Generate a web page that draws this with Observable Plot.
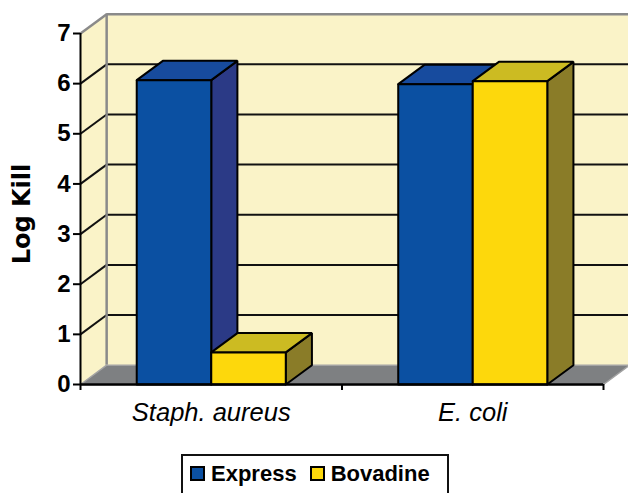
<!DOCTYPE html>
<html>
<head>
<meta charset="utf-8">
<script src="https://cdn.jsdelivr.net/npm/d3@7"></script>
<script src="https://cdn.jsdelivr.net/npm/@observablehq/plot@0.6"></script>
<style>
  html, body { margin: 0; padding: 0; background: #fff; }
  #chart { position: relative; width: 628px; height: 493px; overflow: hidden; font-family: "Liberation Sans", Arial, sans-serif; }
  #legend {
    position: absolute; left: 181px; top: 454px; width: 268px; height: 50px;
    box-sizing: border-box; border: 2px solid #111; background: #fff;
    display: flex; align-items: flex-start; padding: 8px 0 0 7px;
    font-weight: bold; font-size: 22px; color: #000;
  }
  #legend .item { display: flex; align-items: center; margin-right: 13px; }
  #legend .sw { width: 15px; height: 15px; box-sizing: border-box; border: 2px solid #000; margin-right: 6px; }
  #legend .lbl { line-height: 19px; }
</style>
</head>
<body>
<div id="chart"></div>
<script>
// ---- data ----
const categories = ["Staph. aureus", "E. coli"];
const series = ["Express", "Bovadine"];
const express = [6.07, 5.99];
const bovadine = [0.64, 6.05];
const yTicks = [0, 1, 2, 3, 4, 5, 6, 7];
const yLabel = "Log Kill";

// ---- styles ----
const palette = {
  Express:  { front: "#0B50A2", top: "#174B9E", side: "#2B3A86" },
  Bovadine: { front: "#FDD80C", top: "#CCBB22", side: "#8A7C28" }
};
const WALL = "#FAF3C8", FLOOR = "#7E8082", EDGE = "#8A8A8A", FLOOR_EDGE = "#A3A3A3";
const DX = 0.1, DY = 0.385, BAR_W = 0.285;   // 3-D depth offsets & bar width (data units)

const seriesValues = { Express: express, Bovadine: bovadine };
const x0 = -0.5, x1 = categories.length - 0.5;
const yMax = yTicks[yTicks.length - 1];

// bars
const rows = [];
categories.forEach((c, i) => series.forEach((s, j) => rows.push({ cat: c, ci: i, series: s, sj: j, value: seriesValues[s][i] })));

const faces = [];
function poly(id, pts, fill) {
  pts.concat([pts[0]]).forEach(([x, y]) => faces.push({ id, x, y, fill }));
}
rows.forEach((r, k) => {
  const a = r.ci - BAR_W + r.sj * BAR_W, b = a + BAR_W, v = r.value;
  const p = palette[r.series];
  poly(`${k}-side`, [[b, 0], [b, v], [b + DX, v + DY], [b + DX, DY]], p.side);
  poly(`${k}-top`, [[a, v], [b, v], [b + DX, v + DY], [a + DX, v + DY]], p.top);
  poly(`${k}-front`, [[a, 0], [b, 0], [b, v], [a, v]], p.front);
});

// walls & floor
const wallPts = [];
function wpoly(id, pts, fill) { pts.concat([pts[0]]).forEach(([x, y]) => wallPts.push({ id, x, y, fill })); }
wpoly("side", [[x0, 0], [x0, yMax], [x0 + DX, yMax + DY], [x0 + DX, DY]], WALL);
wpoly("back", [[x0 + DX, DY], [x0 + DX, yMax + DY], [x1 + DX, yMax + DY], [x1 + DX, DY]], WALL);
const floorPts = [];
[[x0, 0], [x1, 0], [x1 + DX, DY], [x0 + DX, DY], [x0, 0]].forEach(([x, y]) => floorPts.push({ id: "floor", x, y }));

const grid = yTicks.filter(v => v > 0 && v < yMax);
const boundaries = d3.range(categories.length + 1).map(i => i - 0.5);

const plot = Plot.plot({
  width: 628, height: 445,
  marginLeft: 80, marginRight: 25, marginTop: 33, marginBottom: 61,
  x: { domain: [x0, x1], axis: null },
  y: { domain: [0, yMax], axis: null },
  color: { type: "identity" },
  style: { fontFamily: "'Liberation Sans', Arial, sans-serif", background: "transparent", overflow: "visible", color: "#000" },
  marks: [
    Plot.line(wallPts, { x: "x", y: "y", z: "id", fill: "fill", stroke: null }),
    // gridlines
    Plot.ruleY(grid, { y: d => d + DY, x1: x0 + DX, x2: x1 + DX, stroke: "#111", strokeWidth: 2 }),
    Plot.link(grid, { x1: x0, y1: d => d, x2: x0 + DX, y2: d => d + DY, stroke: "#111", strokeWidth: 2 }),
    // wall edges
    Plot.ruleY([yMax], { y: d => d + DY, x1: x0 + DX, x2: x1 + DX, stroke: EDGE, strokeWidth: 2.5 }),
    Plot.link([yMax], { x1: x0, y1: d => d, x2: x0 + DX, y2: d => d + DY, stroke: EDGE, strokeWidth: 2.5 }),
    Plot.ruleX([x0 + DX], { y1: DY, y2: yMax + DY, stroke: EDGE, strokeWidth: 2.5 }),
    // floor
    Plot.line(floorPts, { x: "x", y: "y", z: "id", fill: FLOOR, stroke: FLOOR_EDGE, strokeWidth: 1.5 }),
    // bars
    Plot.line(faces, { x: "x", y: "y", z: "id", fill: "fill", stroke: "#000", strokeWidth: 2, strokeLinejoin: "miter" }),
    // axes
    Plot.ruleX([x0], { y1: 0, y2: yMax, stroke: "#000", strokeWidth: 2 }),
    Plot.ruleY([0], { x1: x0, x2: x1, stroke: "#000", strokeWidth: 2.5 }),
    Plot.axisY({ ticks: yTicks, tickSize: 7, tickPadding: 3, tickFormat: d3.format("d"), fontSize: 24, fontWeight: "bold", strokeWidth: 2, label: null }),
    Plot.axisX({ ticks: boundaries, tickSize: 6, tickFormat: () => "", strokeWidth: 2, label: null }),
    Plot.axisX({ ticks: d3.range(categories.length), tickSize: 0, tickPadding: 18, tickFormat: i => categories[i], fontSize: 25.5, fontStyle: "italic", label: null }),
    Plot.text([yLabel], { frameAnchor: "left", textAnchor: "middle", rotate: -90, dx: -58, dy: 5, fontSize: 24, fontWeight: "bold", fontFamily: "'DejaVu Sans', sans-serif", fill: "#000" })
  ]
});
const chart = document.getElementById("chart");
chart.appendChild(plot);

// legend
const legend = document.createElement("div");
legend.id = "legend";
series.forEach(s => {
  const item = document.createElement("div");
  item.className = "item";
  const sw = document.createElement("span");
  sw.className = "sw";
  sw.style.background = palette[s].front;
  const lbl = document.createElement("span");
  lbl.className = "lbl";
  lbl.textContent = s;
  item.appendChild(sw); item.appendChild(lbl);
  legend.appendChild(item);
});
chart.appendChild(legend);
</script>
</body>
</html>
